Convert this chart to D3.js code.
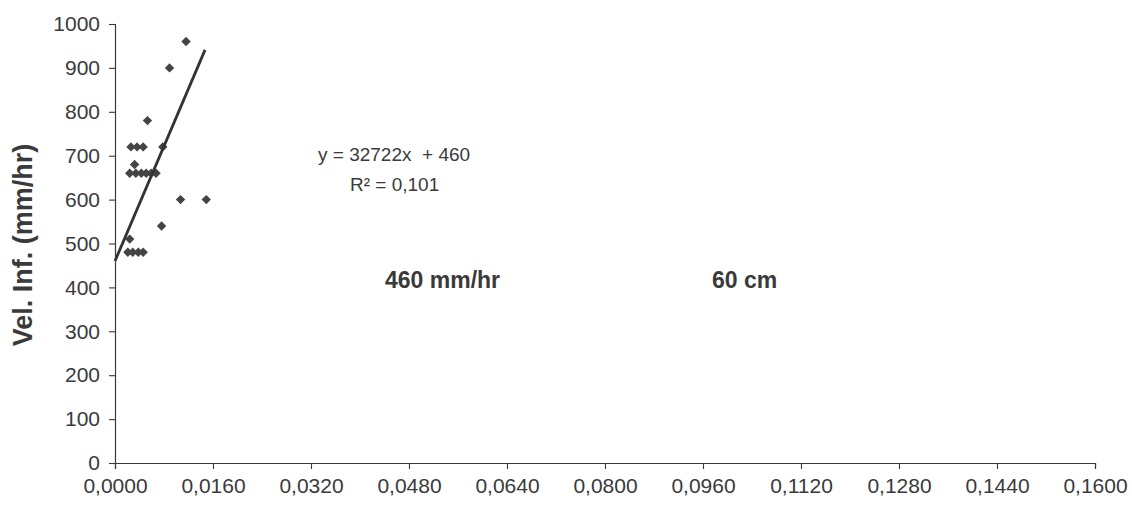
<!DOCTYPE html>
<html>
<head>
<meta charset="utf-8">
<script src="https://cdn.jsdelivr.net/npm/d3@7"></script>
<style>
  html, body { margin: 0; padding: 0; background: #fff; }
  svg { display: block; font-family: "Liberation Sans", Arial, sans-serif; }
</style>
</head>
<body>
<svg id="chart" width="1132" height="505"></svg>
<script>
// ---- data ----
const xVals = [0.0116, 0.0089, 0.0053, 0.0026, 0.0036, 0.0046, 0.0078, 0.0032,
               0.0024, 0.0034, 0.0043, 0.0051, 0.0059, 0.0067,
               0.0107, 0.0149, 0.0076, 0.0024,
               0.0021, 0.0029, 0.0038, 0.0046];
const yVals = [960, 900, 780, 720, 720, 720, 720, 680,
               660, 660, 660, 660, 660, 660,
               600, 600, 540, 510,
               480, 480, 480, 480];
const trendSlope = 32722;
const trendIntercept = 460;
const trendRange = [0, 0.0147];
const xTicks = [0, 0.016, 0.032, 0.048, 0.064, 0.08, 0.096, 0.112, 0.128, 0.144, 0.16];
const yTicks = [0, 100, 200, 300, 400, 500, 600, 700, 800, 900, 1000];
const yTitle = "Vel. Inf. (mm/hr)";
const eqText = "y = 32722x  + 460";
const r2Label = "R² = 0,101";
const note1 = "460 mm/hr";
const note2 = "60 cm";

// ---- layout ----
const svg = d3.select("#chart");
const mLeft = 115, mRight = 1095, mTop = 24, mBottom = 463;
const x = d3.scaleLinear().domain([0, 0.16]).range([mLeft, mRight]);
const y = d3.scaleLinear().domain([0, 1000]).range([mBottom, mTop]);
const ink = "#3a3a3a";

// axes
const xAxis = svg.append("g").attr("transform", `translate(0,${mBottom})`)
  .call(d3.axisBottom(x).tickValues(xTicks).tickSizeOuter(0).tickSize(6).tickPadding(9)
        .tickFormat(d => d3.format(".4f")(d).replace(".", ",")));
const yAxis = svg.append("g").attr("transform", `translate(${mLeft},0)`)
  .call(d3.axisLeft(y).tickValues(yTicks).tickSizeOuter(0).tickSize(6).tickPadding(9)
        .tickFormat(d3.format("d")));
[xAxis, yAxis].forEach(g => {
  g.select(".domain").attr("stroke", ink).attr("stroke-width", 1.2);
  g.selectAll(".tick line").attr("stroke", ink).attr("stroke-width", 1.1);
  g.selectAll(".tick text").attr("fill", ink).style("font-size", "21px")
    .style("font-family", "'Liberation Sans', Arial, sans-serif");
});

// y title
svg.append("text")
  .attr("transform", `translate(32,245) rotate(-90)`)
  .attr("text-anchor", "middle")
  .attr("fill", ink)
  .style("font-size", "27px").style("font-weight", "bold")
  .text(yTitle);

// points
const pts = xVals.map((v, i) => ({x: v, y: yVals[i]}));
svg.append("g").selectAll("path").data(pts).join("path")
  .attr("d", d3.symbol().type(d3.symbolSquare).size(44))
  .attr("transform", d => `translate(${x(d.x)},${y(d.y)}) rotate(45)`)
  .attr("fill", "#444");

// trendline
const trend = trendRange.map(v => ({x: v, y: trendSlope * v + trendIntercept}));
svg.append("path").datum(trend)
  .attr("d", d3.line().x(d => x(d.x)).y(d => y(d.y)))
  .attr("stroke", "#333").attr("stroke-width", 2.8).attr("fill", "none");

// annotations
svg.append("text").attr("x", 318).attr("y", 161).attr("fill", ink)
  .attr("xml:space", "preserve")
  .style("font-size", "19px").text(eqText);
svg.append("text").attr("x", 350).attr("y", 191).attr("fill", ink)
  .style("font-size", "19px").text(r2Label);
svg.append("text").attr("x", 385).attr("y", 288).attr("fill", ink)
  .style("font-size", "23px").style("font-weight", "bold").text(note1);
svg.append("text").attr("x", 712).attr("y", 288).attr("fill", ink)
  .style("font-size", "23px").style("font-weight", "bold").text(note2);
</script>
</body>
</html>
